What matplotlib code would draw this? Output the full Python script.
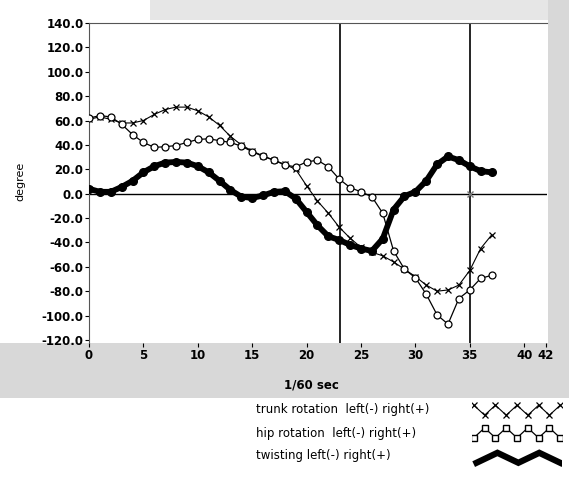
import numpy as np
import matplotlib
matplotlib.use('Agg')
import matplotlib.pyplot as plt
from matplotlib.patches import Rectangle

plt.rcParams['axes.unicode_minus'] = False

# frame number (1/60 sec)
frames = np.arange(38)

trunk = [61, 63, 61, 58, 58, 60, 65, 69, 71, 71, 68, 63, 56, 47, 40, 35, 31, 27.5, 24, 20,
         6.5, -6, -16, -27.5, -36.5, -44, -48, -51, -56, -62, -68, -75, -80, -79, -75, -63, -45, -34]
hip = [62, 64, 63, 57, 48.5, 42, 38, 38.5, 39.5, 42, 44.5, 45, 43.5, 42, 39, 34.5, 30.5, 27.5, 23.5, 22,
       26, 27.5, 22, 12, 5, 1.5, -2.5, -16, -47, -62, -69, -82.5, -99.5, -107, -86, -79, -69.5, -67]
twist = [4, 1.5, 1.5, 5.5, 10.5, 17.5, 22.5, 25.5, 26, 25.5, 22.5, 17.5, 10.5, 3, -2.5, -3.5, -1.5, 1.5, 2, -4,
         -15, -26, -35, -38, -42, -45, -47, -37, -13, -2, 1.5, 10.5, 24, 30.5, 27.5, 22.5, 18.5, 17.5]

xticks = [0, 5, 10, 15, 20, 25, 30, 35, 40, 42]
yticks = np.arange(-120, 141, 20)
cursors = [23.1, 35]

labels = ['trunk rotation  left(-) right(+)',
          'hip rotation  left(-) right(+)',
          'twisting left(-) right(+)']

W, H = 569, 491
fig = plt.figure(figsize=(W / 100, H / 100), dpi=100)

# grey screen-tone strips around the plot frame
for (x0, y0, w, h, c) in [(0, 343, W, 55, '#d8d8d8'), (548, 0, 21, 343, '#d8d8d8'), (150, 0, 398, 20, '#e6e6e6')]:
    fig.patches.append(Rectangle((x0 / W, 1 - (y0 + h) / H), w / W, h / H,
                                 transform=fig.transFigure, color=c, zorder=-5, lw=0))

ax = fig.add_axes([89 / W, 1 - 343 / H, (547 - 89) / W, (343 - 23) / H])
ax.set_facecolor('white')

ax.axhline(0, color='black', lw=1.0, zorder=1)
for c in cursors:
    ax.axvline(c, color='black', lw=1.2, zorder=1)
ax.plot([35], [0], marker='x', color='#777777', ms=5, mew=1, zorder=2)

ax.plot(frames, trunk, color='black', lw=0.8, marker='x', ms=5, mew=0.9, zorder=3)
ax.plot(frames, hip, color='black', lw=0.9, marker='o', ms=5, mfc='white', mec='black', mew=0.9, zorder=4)
ax.plot(frames, twist, color='black', lw=4.2, marker='o', ms=5.5, zorder=5)

ax.set_xlim(0, 42.1)
ax.set_ylim(-122.5, 140)
ax.set_xticks(xticks)
ax.set_xticklabels([str(t) for t in xticks], fontsize=8.5, fontweight='bold')
ax.set_yticks(yticks)
ax.set_yticklabels([f'{v:.1f}' for v in yticks], fontsize=8.5, fontweight='bold')
ax.tick_params(axis='y', direction='out', length=3, width=0.8, pad=1)
ax.tick_params(axis='x', direction='out', length=3, width=0.8, pad=1)

for s in ['right', 'bottom']:
    ax.spines[s].set_visible(False)
for s in ['left', 'top']:
    ax.spines[s].set_linestyle((0, (1, 1)))
    ax.spines[s].set_color('#555555')
    ax.spines[s].set_linewidth(0.8)

ax.set_xlabel('1/60 sec', fontsize=8.5, fontweight='bold')
ax.xaxis.set_label_coords(0.485, -0.11)
ax.set_ylabel('degree', fontsize=8)
ax.yaxis.set_label_coords(-0.14, 0.506)

# legend block below the chart
for i, lab in enumerate(labels):
    fig.text(256 / W, 1 - (410 + 23 * i) / H, lab, fontsize=8.5, va='center', ha='left')

lax = fig.add_axes([472 / W, 1 - 468 / H, 90 / W, 68 / H])
lax.set_xlim(0, 1)
lax.set_ylim(0, 3)
lax.axis('off')
zx = np.linspace(0.02, 0.98, 9)
zz = np.array([1, -1] * 5)[:9]
lax.plot(zx, 2.55 + 0.22 * zz, color='black', lw=0.8, marker='x', ms=5, mew=0.9)
lax.plot(zx, 1.55 - 0.22 * zz, color='black', lw=0.9, marker='s', ms=4.5, mfc='white', mec='black')
tx = np.linspace(0.05, 0.98, 5)
lax.plot(tx, 0.45 - 0.22 * np.array([1, -1, 1, -1, 1]), color='black', lw=4.5, solid_joinstyle='miter')

fig.savefig('out.png', dpi=100)
